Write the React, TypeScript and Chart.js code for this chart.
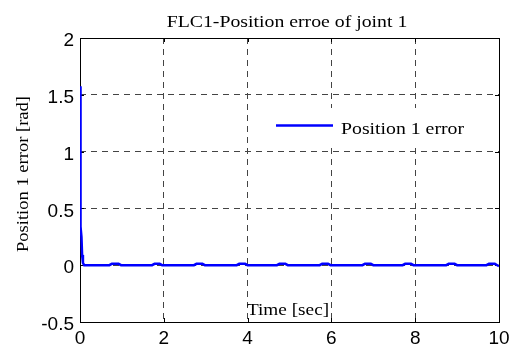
import React, { useEffect, useRef } from "react";
import { Chart, registerables } from "chart.js";

Chart.register(...registerables);

const chartTitle = "FLC1-Position erroe of joint 1";
const xAxisTitle = "Time [sec]";
const yAxisTitle = "Position 1 error [rad]";
const seriesLabel = "Position 1 error";

const xTicks = [0, 2, 4, 6, 8, 10];
const yTicks = [-0.5, 0, 0.5, 1, 1.5, 2];

const timeSec = [
  0, 0.005, 0.02, 0.035, 0.05, 0.07, 0.1,
  0.7, 0.76, 0.92, 0.98,
  1.72, 1.78, 1.9, 1.96,
  2.72, 2.78, 2.92, 2.98,
  3.74, 3.8, 3.94, 4.0,
  4.7, 4.76, 4.9, 4.96,
  5.72, 5.78, 5.92, 5.98,
  6.74, 6.8, 6.94, 7.0,
  7.7, 7.76, 7.9, 7.96,
  8.74, 8.8, 8.94, 9.0,
  9.7, 9.76, 9.9, 9.96, 10,
];

const errorRad = [
  1.575, 0.6, 0.34, 0.25, 0.09, 0.02, 0.0,
  0.0, 0.012, 0.012, 0.0,
  0.0, 0.012, 0.012, 0.0,
  0.0, 0.012, 0.012, 0.0,
  0.0, 0.012, 0.012, 0.0,
  0.0, 0.012, 0.012, 0.0,
  0.0, 0.012, 0.012, 0.0,
  0.0, 0.012, 0.012, 0.0,
  0.0, 0.012, 0.012, 0.0,
  0.0, 0.012, 0.012, 0.0,
  0.0, 0.012, 0.012, 0.0, -0.01,
];

const SERIF = '"Liberation Serif", "Times New Roman", serif';
const SANS = '"Liberation Sans", Arial, sans-serif';

function stretchedText(ctx: any, text: string, x: number, y: number, sx: number, align: string) {
  ctx.save();
  ctx.translate(x, y);
  ctx.scale(sx, 1);
  ctx.textAlign = align;
  ctx.fillText(text, 0, 0);
  ctx.restore();
}

const decorPlugin = {
  id: "decor",
  beforeDatasetsDraw(chart: any) {
    const { ctx, chartArea } = chart;
    ctx.save();
    ctx.strokeStyle = "#000";
    ctx.lineWidth = 1;
    ctx.setLineDash([]);
    ctx.strokeRect(
      Math.round(chartArea.left) + 0.5,
      Math.round(chartArea.top) + 0.5,
      Math.round(chartArea.right - chartArea.left),
      Math.round(chartArea.bottom - chartArea.top)
    );
    const xs = chart.scales.x;
    const ys = chart.scales.y;
    ctx.beginPath();
    for (const v of xTicks) {
      const px = Math.round(xs.getPixelForValue(v)) + 0.5;
      ctx.moveTo(px, chartArea.bottom);
      ctx.lineTo(px, chartArea.bottom - 4);
      ctx.moveTo(px, chartArea.top);
      ctx.lineTo(px, chartArea.top + 4);
    }
    for (const v of yTicks) {
      const py = Math.round(ys.getPixelForValue(v)) + 0.5;
      ctx.moveTo(chartArea.left, py);
      ctx.lineTo(chartArea.left + 4, py);
      ctx.moveTo(chartArea.right, py);
      ctx.lineTo(chartArea.right - 4, py);
    }
    ctx.stroke();
    ctx.restore();
  },
  afterDatasetsDraw(chart: any) {
    const { ctx } = chart;
    ctx.save();
    // legend box (white, no border)
    ctx.fillStyle = "#fff";
    ctx.fillRect(270, 108, 205, 37);
    ctx.strokeStyle = "#0000ff";
    ctx.lineWidth = 2.5;
    ctx.beginPath();
    ctx.moveTo(276, 125.5);
    ctx.lineTo(333, 125.5);
    ctx.stroke();
    ctx.fillStyle = "#000";
    ctx.font = `17.5px ${SERIF}`;
    ctx.textBaseline = "alphabetic";
    stretchedText(ctx, seriesLabel, 341, 134, 1.13, "left");

    // title
    stretchedText(ctx, chartTitle, 287, 27, 1.13, "center");

    // x axis title (inside plot area)
    stretchedText(ctx, xAxisTitle, 288, 315, 1.1, "center");

    // y axis title
    ctx.save();
    ctx.translate(28, 174);
    ctx.rotate(-Math.PI / 2);
    ctx.scale(1.06, 1);
    ctx.textAlign = "center";
    ctx.fillText(yAxisTitle, 0, 0);
    ctx.restore();
    ctx.restore();
  },
};

export default function App() {
  const canvasRef = useRef<HTMLCanvasElement | null>(null);

  useEffect(() => {
    document.body.style.margin = "0";
    const canvas = canvasRef.current;
    if (!canvas) return;
    const points = timeSec.map((t, i) => ({ x: t, y: errorRad[i] }));
    const grid = {
      color: "#444",
      lineWidth: 1,
      drawTicks: false,
    };
    const chart = new Chart(canvas, {
      type: "line",
      data: {
        datasets: [
          {
            label: seriesLabel,
            data: points,
            borderColor: "#0000ff",
            borderWidth: 2.5,
            pointRadius: 0,
            tension: 0,
            fill: false,
          },
        ],
      },
      options: {
        animation: false,
        responsive: false,
        maintainAspectRatio: false,
        events: [],
        layout: { padding: { top: 38, right: 19, left: 0, bottom: 0 } },
        plugins: {
          legend: { display: false },
          title: { display: false },
          tooltip: { enabled: false },
        },
        scales: {
          x: {
            type: "linear",
            min: 0,
            max: 10,
            afterBuildTicks: (s: any) => {
              s.ticks = xTicks.map((v) => ({ value: v }));
            },
            afterFit: (s: any) => {
              s.height = 23;
            },
            grid,
            border: { display: false, dash: [6, 5] },
            ticks: {
              color: "#000",
              font: { family: SANS, size: 19 },
              padding: 5,
              maxRotation: 0,
              autoSkip: false,
              callback: (v: any) => String(v),
            },
          },
          y: {
            type: "linear",
            min: -0.5,
            max: 2,
            afterBuildTicks: (s: any) => {
              s.ticks = yTicks.map((v) => ({ value: v }));
            },
            afterFit: (s: any) => {
              s.width = 80;
            },
            grid,
            border: { display: false, dash: [6, 5] },
            ticks: {
              color: "#000",
              font: { family: SANS, size: 19 },
              padding: 6,
              labelOffset: 3,
              autoSkip: false,
              callback: (v: any) => String(v),
            },
          },
        },
      },
      plugins: [decorPlugin],
    } as any);
    return () => chart.destroy();
  }, []);

  return (
    <div style={{ position: "absolute", left: 0, top: 0, width: 518, height: 345, background: "#fff" }}>
      <canvas ref={canvasRef} width={518} height={345} style={{ width: 518, height: 345 }} />
    </div>
  );
}
